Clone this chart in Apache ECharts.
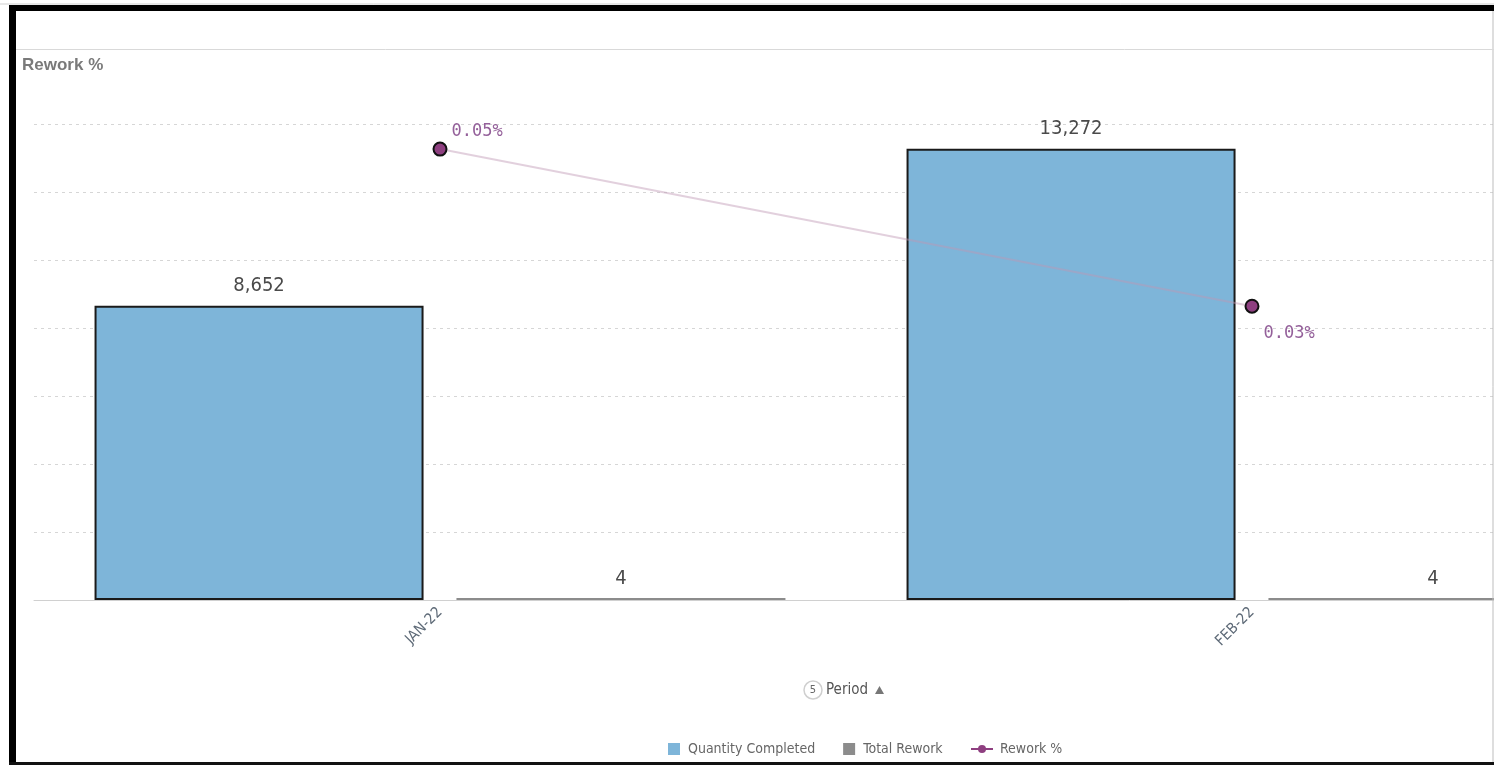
<!DOCTYPE html>
<html>
<head>
<meta charset="utf-8">
<script src="https://cdn.jsdelivr.net/npm/echarts@6/dist/echarts.min.js"></script>
<style>
html,body{margin:0;padding:0;background:#fff;overflow:hidden;}
#chart{width:1494px;height:765px;}
</style>
</head>
<body>
<div id="chart"></div>
<script>
const categories = ['JAN-22', 'FEB-22'];
const quantityCompleted = [8652, 13272];
const totalRework = [4, 4];
const reworkPct = [0.0462, 0.0301];
const pctLabelPlacement = ['above', 'below'];

const narrow = '"Liberation Sans Narrow", "DejaVu Sans Condensed", "Roboto Condensed", sans-serif';

const chart = echarts.init(document.getElementById('chart'), null, {renderer: 'canvas'});

const lineData = reworkPct.map((v, i) => ({
  value: v,
  label: pctLabelPlacement[i] === 'above'
    ? {position: 'right', offset: [0, -18]}
    : {position: 'right', offset: [0, 27]}
}));

chart.setOption({
  animation: false,
  backgroundColor: '#fff',
  grid: {left: 34, top: 124, height: 476, width: 1624, containLabel: false, outerBoundsMode: 'none'},
  xAxis: {
    type: 'category',
    data: categories,
    axisLine: {show: true, lineStyle: {color: '#d0d0d0', width: 1}},
    axisTick: {show: false},
    axisLabel: {rotate: 45, margin: 10, color: '#5f6b78', fontSize: 15, fontFamily: narrow}
  },
  yAxis: [
    {
      type: 'value', min: 0, max: 14000, interval: 2000,
      axisLabel: {show: false}, axisLine: {show: false}, axisTick: {show: false},
      splitLine: {show: true, lineStyle: {color: '#d6d6d6', type: [3, 4], width: 1}}
    },
    {
      type: 'value', min: 0, max: 0.04877,
      show: false, splitLine: {show: false}
    }
  ],
  legend: [
    {
      data: ['Quantity Completed', 'Total Rework'],
      left: 663, top: 737,
      icon: 'rect', itemWidth: 12, itemHeight: 12, itemGap: 28,
      itemStyle: {borderWidth: 0},
      textStyle: {color: '#666', fontSize: 14, fontFamily: narrow, padding: [0, 0, 0, 3]}
    },
    {
      data: [{name: 'Rework %', itemStyle: {borderWidth: 0, color: '#8e3f80'}, lineStyle: {color: '#8e3f80', width: 2}}],
      left: 965, top: 737,
      itemWidth: 22, itemHeight: 10,
      textStyle: {color: '#666', fontSize: 14, fontFamily: narrow, padding: [0, 0, 0, 2]}
    }
  ],
  series: [
    {
      name: 'Quantity Completed',
      type: 'bar',
      data: quantityCompleted,
      barWidth: 329,
      barGap: '10%',
      itemStyle: {color: '#7eb5d9', borderColor: '#1a1a1a', borderWidth: 2},
      label: {
        show: true, position: 'top', distance: 10,
        color: '#4a4a4a', fontSize: 20, fontFamily: narrow,
        formatter: p => p.value.toLocaleString('en-US')
      }
    },
    {
      name: 'Total Rework',
      type: 'bar',
      data: totalRework,
      barWidth: 329,
      barMinHeight: 2,
      itemStyle: {color: '#8c8c8c'},
      label: {
        show: true, position: 'top', distance: 9,
        color: '#4a4a4a', fontSize: 20, fontFamily: narrow,
        formatter: p => p.value.toLocaleString('en-US')
      }
    },
    {
      name: 'Rework %',
      type: 'line',
      yAxisIndex: 1,
      data: lineData,
      symbol: 'circle',
      symbolSize: 13,
      z: 5,
      lineStyle: {color: 'rgba(190,150,180,0.45)', width: 2},
      itemStyle: {color: '#8e3f80', borderColor: '#111', borderWidth: 2},
      label: {
        show: true, distance: 4,
        color: '#94609a', fontSize: 17, fontFamily: '"DejaVu Sans Mono", monospace',
        formatter: p => p.value.toFixed(2) + '%'
      }
    }
  ],
  graphic: [
    {type: 'line', shape: {x1: 0, y1: 4, x2: 1494, y2: 4}, style: {stroke: '#cfcfcf', lineWidth: 1}, z: 100},
    {type: 'rect', shape: {x: 9, y: 5, width: 1485, height: 6}, style: {fill: '#000'}, z: 100},
    {type: 'rect', shape: {x: 9, y: 5, width: 7, height: 760}, style: {fill: '#000'}, z: 100},
    {type: 'rect', shape: {x: 9, y: 762, width: 1485, height: 3}, style: {fill: '#111'}, z: 100},
    {type: 'line', shape: {x1: 1493, y1: 11, x2: 1493, y2: 762}, style: {stroke: '#bdbdbd', lineWidth: 1}, z: 100},
    {type: 'line', shape: {x1: 16, y1: 49.5, x2: 1494, y2: 49.5}, style: {stroke: '#d9d9d9', lineWidth: 1}, z: 100},
    {type: 'text', left: 22, top: 57, style: {text: 'Rework %', fill: '#7a7a7a', font: 'bold 17px "Liberation Sans", sans-serif'}, z: 100},
    {type: 'circle', shape: {cx: 813, cy: 690, r: 9}, style: {fill: '#fff', stroke: '#cfcfcf', lineWidth: 1.5}, z: 100},
    {type: 'text', x: 813, y: 690, style: {text: '5', fill: '#666', font: '11px ' + narrow, align: 'center', verticalAlign: 'middle'}, z: 101},
    {type: 'text', x: 826, y: 690, style: {text: 'Period', fill: '#555', font: '15px ' + narrow, verticalAlign: 'middle'}, z: 100},
    {type: 'polygon', shape: {points: [[875, 694], [884, 694], [879.5, 686]]}, style: {fill: '#777'}, z: 100}
  ]
});
</script>
</body>
</html>
